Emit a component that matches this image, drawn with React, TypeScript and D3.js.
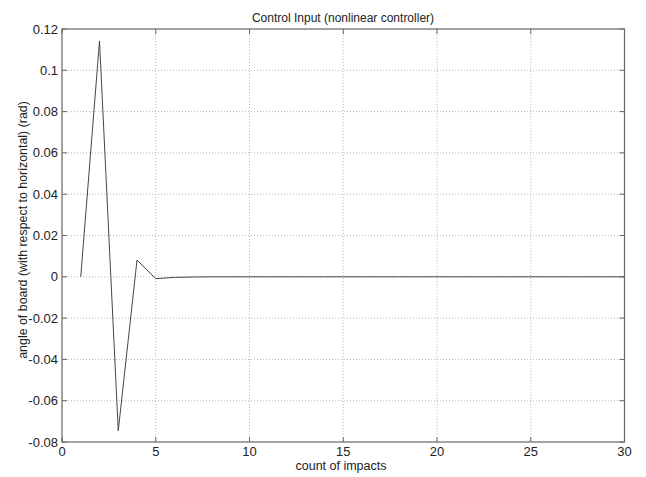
import React from "react";
import * as d3 from "d3";

const impacts = [1, 2, 3, 4, 5, 6, 7, 8, 9, 10, 11, 12, 13, 14, 15, 16, 17, 18, 19, 20, 21, 22, 23, 24, 25, 26, 27, 28, 29, 30];
const angles = [0, 0.1142, -0.0745, 0.0081, -0.0009, -0.0003, -0.0001, 0, 0, 0, 0, 0, 0, 0, 0, 0, 0, 0, 0, 0, 0, 0, 0, 0, 0, 0, 0, 0, 0, 0];
const xTicks = [0, 5, 10, 15, 20, 25, 30];
const yTicks = [-0.08, -0.06, -0.04, -0.02, 0, 0.02, 0.04, 0.06, 0.08, 0.1, 0.12];
const yTickLabels = ["-0.08", "-0.06", "-0.04", "-0.02", "0", "0.02", "0.04", "0.06", "0.08", "0.1", "0.12"];
const title = "Control Input (nonlinear controller)";
const xLabel = "count of impacts";
const yLabel = "angle of board (with respect to horizontal) (rad)";

export default function App() {
  const W = 646, H = 477;
  const left = 62, right = 624.5, top = 29, bottom = 442;
  const x = d3.scaleLinear().domain([0, 30]).range([left, right]);
  const y = d3.scaleLinear().domain([-0.08, 0.12]).range([bottom, top]);
  const line = d3.line<number>().x((_, i) => x(impacts[i])).y((d) => y(d));
  const font = "'Liberation Sans', Arial, sans-serif";
  const axisColor = "#666";
  const gridColor = "#b8b8b8";
  return (
    <svg width={W} height={H} style={{ position: "absolute", left: 0, top: 0, background: "#fff" }} fontFamily={font}>
      <rect x={0} y={0} width={W} height={H} fill="#fff" />
      {xTicks.slice(1, -1).map((t) => (
        <line key={"gx" + t} x1={x(t)} x2={x(t)} y1={top} y2={bottom} stroke={gridColor} strokeWidth={1} strokeDasharray="1,2" />
      ))}
      {yTicks.slice(1, -1).map((t) => (
        <line key={"gy" + t} x1={left} x2={right} y1={y(t)} y2={y(t)} stroke={gridColor} strokeWidth={1} strokeDasharray="1,2" />
      ))}
      <path d={line(angles) || ""} fill="none" stroke="#444" strokeWidth={1} />
      <rect x={left} y={top} width={right - left} height={bottom - top} fill="none" stroke={axisColor} strokeWidth={1.2} />
      {xTicks.map((t) => (
        <g key={"tx" + t}>
          <line x1={x(t)} x2={x(t)} y1={bottom} y2={bottom - 5} stroke={axisColor} />
          <line x1={x(t)} x2={x(t)} y1={top} y2={top + 5} stroke={axisColor} />
          <text x={x(t)} y={456} textAnchor="middle" fontSize={13} fill="#222">{t}</text>
        </g>
      ))}
      {yTicks.map((t, i) => (
        <g key={"ty" + t}>
          <line x1={left} x2={left + 5} y1={y(t)} y2={y(t)} stroke={axisColor} />
          <line x1={right} x2={right - 5} y1={y(t)} y2={y(t)} stroke={axisColor} />
          <text x={58} y={y(t) + 4.5} textAnchor="end" fontSize={13} fill="#222">{yTickLabels[i]}</text>
        </g>
      ))}
      <text x={343} y={22} textAnchor="middle" fontSize={12} fill="#222">{title}</text>
      <text x={341} y={470} textAnchor="middle" fontSize={12.5} fill="#222">{xLabel}</text>
      <text transform={`translate(27,230) rotate(-90)`} textAnchor="middle" fontSize={12.4} fill="#222">{yLabel}</text>
    </svg>
  );
}
